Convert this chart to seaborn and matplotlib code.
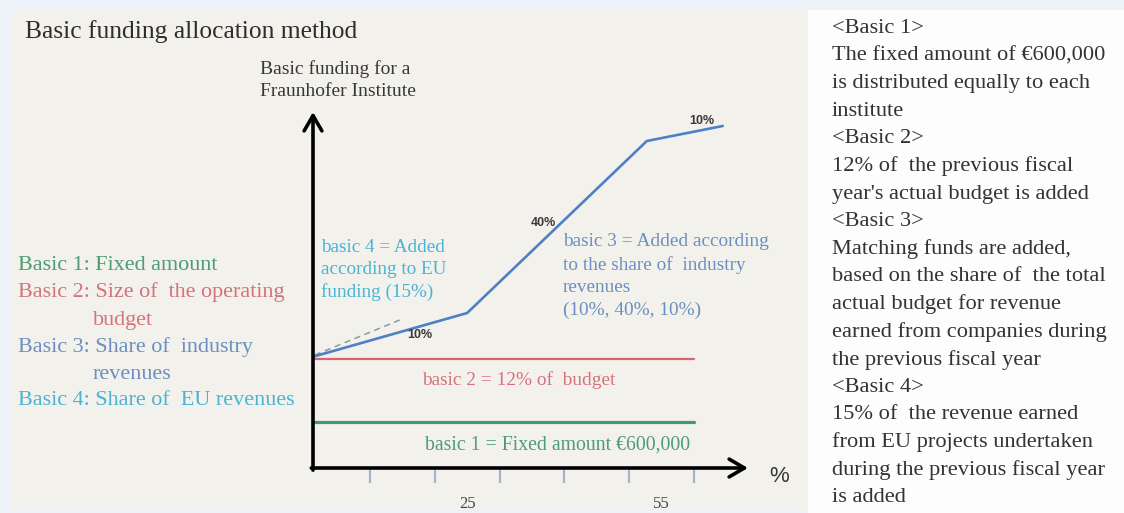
import matplotlib
matplotlib.use("Agg")
import matplotlib.pyplot as plt
import seaborn as sns
import pandas as pd
from matplotlib.patches import Rectangle

# ---------------- data ----------------
blue_x = [0, 25, 52.7, 64.4]          # basic 3 (industry share) curve
blue_y = [10.9, 15.5, 32.7, 34.2]
green_x = [0, 60]                     # basic 1 fixed amount
green_y = [4.6, 4.6]
red_x = [0, 60]                       # basic 2 = 12% of budget
red_y = [10.9, 10.9]
eu_x = [0, 14.6]                      # basic 4 dashed EU addition
eu_y = [10.9, 14.8]
minor_ticks = [10, 20, 30, 40, 50, 60]
tick_values = [25, 55]
tick_labels = ["25", "55"]
rate_labels = ["10%", "40%", "10%"]

title = "Basic funding allocation method"
ylabel_lines = ["Basic funding for a", "Fraunhofer Institute"]
legend_lines = [
    ("Basic 1: Fixed amount", "green", 0),
    ("Basic 2: Size of  the operating", "red", 0),
    ("budget", "red", 1),
    ("Basic 3: Share of  industry", "blue", 0),
    ("revenues", "blue", 1),
    ("Basic 4: Share of  EU revenues", "cyan", 0),
]
basic4_lines = ["basic 4 = Added", "according to EU", "funding (15%)"]
basic3_lines = ["basic 3 = Added according", "to the share of  industry", "revenues", "(10%, 40%, 10%)"]
basic2_text = "basic 2 = 12% of  budget"
basic1_text = "basic 1 = Fixed amount €600,000"
right_lines = [
    "<Basic 1>",
    "The fixed amount of €600,000",
    "is distributed equally to each",
    "institute",
    "<Basic 2>",
    "12% of  the previous fiscal",
    "year's actual budget is added",
    "<Basic 3>",
    "Matching funds are added,",
    "based on the share of  the total",
    "actual budget for revenue",
    "earned from companies during",
    "the previous fiscal year",
    "<Basic 4>",
    "15% of  the revenue earned",
    "from EU projects undertaken",
    "during the previous fiscal year",
    "is added",
]

# ---------------- style ----------------
sns.set_theme(style="white")
plt.rcParams["font.family"] = ["Liberation Serif", "DejaVu Serif"]

C = {
    "green": "#4e9c72", "red": "#d4737c", "blue": "#6b8fc2", "cyan": "#48b4d6",
}
GREEN_LINE = "#3f9c6e"
RED_LINE = "#d9646e"
BLUE_LINE = "#4f7fc6"
DARK = "#383838"

W, H = 1124, 513
fig = plt.figure(figsize=(W / 100, H / 100), dpi=100)
fig.patch.set_facecolor("#edf1f8")
fig.patches.append(Rectangle((12 / W, 1 - 510 / H), (808 - 12) / W, 500 / H,
                             transform=fig.transFigure, facecolor="#f3f1eb",
                             edgecolor="none", zorder=-5))
fig.patches.append(Rectangle((808 / W, 0), (W - 808) / W, 1 - 10 / H,
                             transform=fig.transFigure, facecolor="#fdfdfd",
                             edgecolor="none", zorder=-5))


def T(x, y, s, size, color=DARK, ha="left", **kw):
    fig.text(x / W, 1 - y / H, s, fontsize=size, color=color, ha=ha,
             va="center_baseline", **kw)


# ---------------- main diagram axes ----------------
ax = fig.add_axes([313 / W, 45 / H, 435 / W, 356 / H])
ax.set_zorder(2)
ax.set_facecolor("none")

def series(x, y, name):
    return pd.DataFrame({"x": x, "y": y, "series": name})

sns.lineplot(data=series(green_x, green_y, "basic1"), x="x", y="y", ax=ax,
             color=GREEN_LINE, linewidth=2.3, sort=False, estimator=None)
sns.lineplot(data=series(red_x, red_y, "basic2"), x="x", y="y", ax=ax,
             color=RED_LINE, linewidth=1.6, sort=False, estimator=None)
sns.lineplot(data=series(eu_x, eu_y, "basic4"), x="x", y="y", ax=ax,
             color="#8c97a8", linewidth=1.1, linestyle=(0, (4, 3)),
             sort=False, estimator=None)
sns.lineplot(data=series(blue_x, blue_y, "basic3"), x="x", y="y", ax=ax,
             color=BLUE_LINE, linewidth=1.9, sort=False, estimator=None)

ax.set_xlim(1.23, 68.3)
ax.set_ylim(0, 35.6)
for s in ax.spines.values():
    s.set_visible(False)
ax.set_xlabel("")
ax.set_ylabel("")
ax.set_yticks([])
ax.set_xticks(minor_ticks, minor=True)
ax.set_xticks(tick_values, labels=tick_labels)
ax.tick_params(axis="x", which="both", bottom=True)
ax.tick_params(axis="x", which="major", length=0, pad=20, labelsize=12,
               labelcolor="#444444")
ax.tick_params(axis="x", which="minor", length=11, width=1.6,
               color="#a3b4cf", direction="out")

arrow = dict(arrowstyle="->,head_length=0.55,head_width=0.32", color="black",
             lw=2.6, shrinkA=0, shrinkB=0, mutation_scale=20)
ax.annotate("", xy=(1.0, 0), xytext=(-0.004, 0), xycoords="axes fraction",
            textcoords="axes fraction", arrowprops=arrow, annotation_clip=False)
ax.annotate("", xy=(0, 1.0), xytext=(0, -0.006), xycoords="axes fraction",
            textcoords="axes fraction", arrowprops=arrow, annotation_clip=False)

# ---------------- texts ----------------
T(25, 29, title, 18.4, color="#2e2e2e")
T(260, 67, ylabel_lines[0], 14.0)
T(260, 90, ylabel_lines[1], 14.0)
T(779, 474, "%", 16, family=["Liberation Sans", "DejaVu Sans"], ha="center")

legend_y = [263, 290, 318, 345, 372, 398]
for (txt, key, indent), y in zip(legend_lines, legend_y):
    T(93 if indent else 18, y, txt, 15.9, color=C[key])

for i, line in enumerate(basic4_lines):
    T(321, 245 + i * 22.5, line, 13.8, color=C["cyan"])
for i, line in enumerate(basic3_lines):
    T(563, 240 + i * 22.7, line, 13.9, color=C["blue"])
T(422, 378, basic2_text, 13.9, color=C["red"])
T(425, 443, basic1_text, 14.2, color=C["green"])

for (x, y), lab in zip([(420, 334), (543, 221), (702, 120)], rate_labels):
    T(x, y, lab, 9, color="#3a3a3a", ha="center", weight="bold",
      family=["Liberation Sans", "DejaVu Sans"])

for i, line in enumerate(right_lines):
    T(832, 26 + i * 27.6, line, 16.1, color="#333333")

fig.savefig("out.png", dpi=100, facecolor=fig.get_facecolor())
